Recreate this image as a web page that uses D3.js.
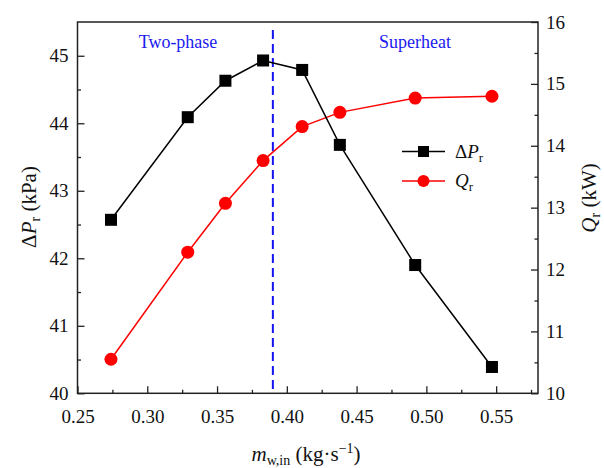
<!DOCTYPE html>
<html>
<head>
<meta charset="utf-8">
<script src="https://cdn.jsdelivr.net/npm/d3@7"></script>
</head>
<body style="margin:0">
<svg id="plot" width="604" height="468"></svg>
<script>
// Inlet water mass flow rate (kg/s)
const massFlow = [0.274, 0.329, 0.356, 0.383, 0.411, 0.438, 0.492, 0.547];
// Refrigerant pressure drop (kPa)
const pressureDrop = [42.57, 44.09, 44.63, 44.93, 44.79, 43.68, 41.90, 40.39];
// Refrigerant heat transfer rate (kW)
const heatRate = [10.55, 12.28, 13.07, 13.76, 14.31, 14.54, 14.77, 14.80];
// Boundary between two-phase and superheat outlet states
const transitionFlow = 0.39;

const xTicks = [0.25, 0.30, 0.35, 0.40, 0.45, 0.50, 0.55];
const leftTicks = [40, 41, 42, 43, 44, 45];
const rightTicks = [10, 11, 12, 13, 14, 15, 16];

const FONT = '"Liberation Serif"';
const svg = d3.select("#plot");
const m = { left: 77.5, right: 538, top: 22, bottom: 393.3 };

const x = d3.scaleLinear().domain([0.25, 0.58]).range([m.left, m.right]);
const yL = d3.scaleLinear().domain([40, 45.5]).range([m.bottom, m.top]);
const yR = d3.scaleLinear().domain([10, 16]).range([m.bottom, m.top]);

const axisColor = "#222";

// Frame
svg.append("rect")
  .attr("x", m.left).attr("y", m.top)
  .attr("width", m.right - m.left).attr("height", m.bottom - m.top)
  .attr("fill", "none").attr("stroke", axisColor).attr("stroke-width", 1.5);

function styleAxis(g) {
  g.select(".domain").remove();
  g.selectAll("line").attr("stroke", axisColor).attr("stroke-width", 1.3);
  g.selectAll("text").attr("fill", "#111").style("font-family", FONT).style("font-size", "19px");
}

// Minor ticks (unlabelled) drawn with the same axis generators
const xMinor = d3.range(0.275, 0.58, 0.05);
svg.append("g").attr("transform", `translate(0,${m.bottom})`)
  .call(d3.axisBottom(x).tickValues(xMinor).tickSizeInner(-3.5).tickSizeOuter(0).tickFormat(""))
  .call(styleAxis);
svg.append("g").attr("transform", `translate(0,${m.bottom})`)
  .call(d3.axisBottom(x).tickValues(xTicks).tickSizeInner(-7).tickSizeOuter(0)
    .tickPadding(16).tickFormat(d3.format(".2f")))
  .call(styleAxis);

const leftMinor = d3.range(40.5, 45.5, 1);
svg.append("g").attr("transform", `translate(${m.left},0)`)
  .call(d3.axisLeft(yL).tickValues(leftMinor).tickSizeInner(-3.5).tickSizeOuter(0).tickFormat(""))
  .call(styleAxis);
svg.append("g").attr("transform", `translate(${m.left},0)`)
  .call(d3.axisLeft(yL).tickValues(leftTicks).tickSizeInner(-7).tickSizeOuter(0)
    .tickPadding(9).tickFormat(d3.format("d")))
  .call(styleAxis);

const rightMinor = d3.range(10.5, 16, 1);
svg.append("g").attr("transform", `translate(${m.right},0)`)
  .call(d3.axisRight(yR).tickValues(rightMinor).tickSizeInner(-3.5).tickSizeOuter(0).tickFormat(""))
  .call(styleAxis);
svg.append("g").attr("transform", `translate(${m.right},0)`)
  .call(d3.axisRight(yR).tickValues(rightTicks).tickSizeInner(-7).tickSizeOuter(0)
    .tickPadding(8).tickFormat(d3.format("d")))
  .call(styleAxis);

// Transition line
svg.append("line")
  .attr("x1", x(transitionFlow)).attr("x2", x(transitionFlow))
  .attr("y1", m.top + 8).attr("y2", m.bottom)
  .attr("stroke", "#1515f0").attr("stroke-width", 2)
  .attr("stroke-dasharray", "9,5");

// Region labels
svg.append("text").attr("x", 178).attr("y", 48).attr("text-anchor", "middle")
  .attr("fill", "#1a1aee").style("font-family", FONT).style("font-size", "18px").text("Two-phase");
svg.append("text").attr("x", 415).attr("y", 48).attr("text-anchor", "middle")
  .attr("fill", "#1a1aee").style("font-family", FONT).style("font-size", "18px").text("Superheat");

// Heat rate series (red circles)
const lineQ = d3.line().x((d, i) => x(massFlow[i])).y(d => yR(d));
svg.append("path").datum(heatRate).attr("d", lineQ)
  .attr("fill", "none").attr("stroke", "#ff0000").attr("stroke-width", 1.5);
svg.append("g").selectAll("circle").data(heatRate).join("circle")
  .attr("cx", (d, i) => x(massFlow[i])).attr("cy", d => yR(d)).attr("r", 6.5)
  .attr("fill", "#ff0000");

// Pressure drop series (black squares)
const lineP = d3.line().x((d, i) => x(massFlow[i])).y(d => yL(d));
svg.append("path").datum(pressureDrop).attr("d", lineP)
  .attr("fill", "none").attr("stroke", "#000").attr("stroke-width", 1.5);
const sq = 12;
svg.append("g").selectAll("rect").data(pressureDrop).join("rect")
  .attr("x", (d, i) => x(massFlow[i]) - sq / 2).attr("y", d => yL(d) - sq / 2)
  .attr("width", sq).attr("height", sq).attr("fill", "#000");

// Legend
const legend = svg.append("g");
const legItems = [
  { color: "#000", shape: "square", y: 151.5, main: "ΔP", sub: "r" },
  { color: "#ff0000", shape: "circle", y: 181, main: "Q", sub: "r" }
];
legItems.forEach(it => {
  legend.append("line").attr("x1", 402).attr("x2", 445).attr("y1", it.y).attr("y2", it.y)
    .attr("stroke", it.color).attr("stroke-width", 1.5);
  if (it.shape === "square") {
    legend.append("rect").attr("x", 423.5 - 5.5).attr("y", it.y - 5.5)
      .attr("width", 11).attr("height", 11).attr("fill", it.color);
  } else {
    legend.append("circle").attr("cx", 423.5).attr("cy", it.y).attr("r", 6).attr("fill", it.color);
  }
  const t = legend.append("text").attr("x", 455).attr("y", it.y + 6)
    .attr("fill", "#111").style("font-family", FONT).style("font-size", "19px");
  if (it.main === "ΔP") {
    t.append("tspan").text("Δ");
    t.append("tspan").style("font-style", "italic").text("P");
  } else {
    t.append("tspan").style("font-style", "italic").text(it.main);
  }
  t.append("tspan").attr("dy", 4).style("font-size", "13px").text(it.sub);
});

// Left axis title
const tl = svg.append("text")
  .attr("transform", "translate(36,207) rotate(-90)")
  .attr("text-anchor", "middle").attr("fill", "#111")
  .style("font-family", FONT).style("font-size", "21px");
tl.append("tspan").text("Δ");
tl.append("tspan").style("font-style", "italic").text("P");
tl.append("tspan").attr("dy", 4).style("font-size", "14px").text("r");
tl.append("tspan").attr("dy", -4).text(" (kPa)");

// Right axis title
const tr = svg.append("text")
  .attr("transform", "translate(596,198) rotate(-90)")
  .attr("text-anchor", "middle").attr("fill", "#111")
  .style("font-family", FONT).style("font-size", "21px");
tr.append("tspan").style("font-style", "italic").text("Q");
tr.append("tspan").attr("dy", 4).style("font-size", "14px").text("r");
tr.append("tspan").attr("dy", -4).text(" (kW)");

// Bottom axis title
const tb = svg.append("text")
  .attr("x", 306).attr("y", 461)
  .attr("text-anchor", "middle").attr("fill", "#111")
  .style("font-family", FONT).style("font-size", "21px");
tb.append("tspan").style("font-style", "italic").text("m");
tb.append("tspan").attr("dy", 4).style("font-size", "14px").text("w,in");
tb.append("tspan").attr("dy", -4).text(" (kg·s");
tb.append("tspan").attr("dy", -8).style("font-size", "14px").text("−1");
tb.append("tspan").attr("dy", 8).text(")");
</script>
</body>
</html>
